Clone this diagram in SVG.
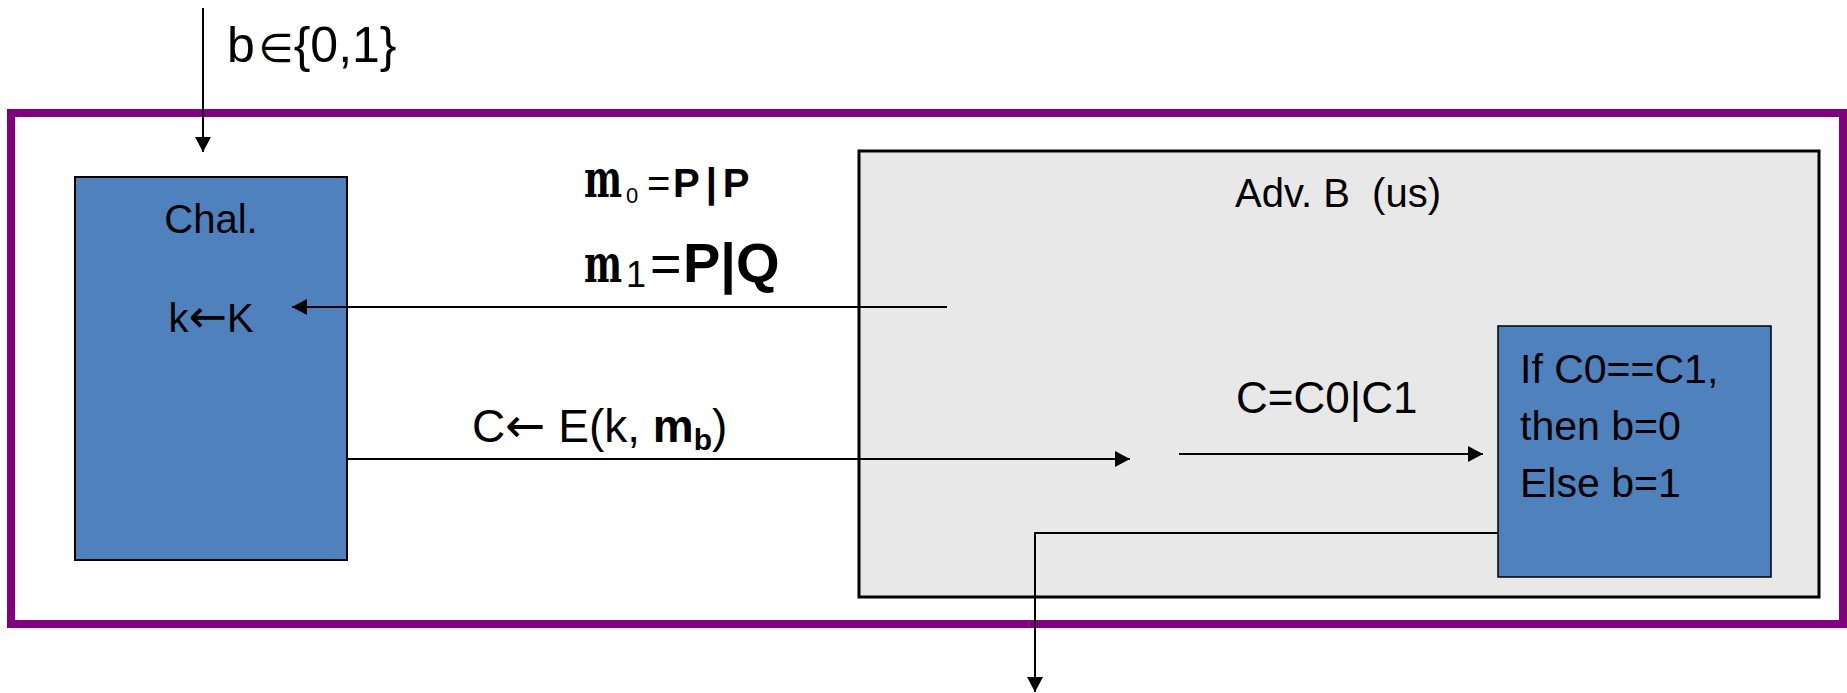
<svg xmlns="http://www.w3.org/2000/svg" width="1847" height="693" viewBox="0 0 1847 693">
<style>
.t{font-family:"Liberation Sans",Arial,sans-serif;fill:#000}
.ar{font-family:"DejaVu Sans",sans-serif}
.mm{font-family:"DejaVu Serif",serif;font-weight:bold;fill:#000}
.c{stroke:#000;stroke-width:2;fill:none}
.blue{fill:#4F81BD;stroke:#000}
</style>
<defs>
<marker id="ah" markerUnits="userSpaceOnUse" markerWidth="16" markerHeight="16" refX="15" refY="8" orient="auto">
<path d="M0,0 L15,8 L0,16 Z" fill="#000"/>
</marker>
</defs>
<rect width="1847" height="693" fill="#fff"/>
<g id="frame">
<rect x="11" y="113" width="1832" height="511" fill="none" stroke="#800080" stroke-width="8"/>
</g>
<g id="adversary">
<rect x="859" y="151" width="960" height="446" fill="#E8E8E8" stroke="#000" stroke-width="3"/>
<text class="t" x="1338" y="207" font-size="40" text-anchor="middle" style="white-space:pre" xml:space="preserve">Adv. B  (us)</text>
</g>
<g id="challenger">
<rect class="blue" x="75" y="177" width="272" height="383" stroke-width="2"/>
<text class="t" x="211" y="233" font-size="40" text-anchor="middle">Chal.</text>
<text class="t" x="211" y="332" font-size="40" text-anchor="middle">k<tspan class="ar" font-size="46">←</tspan>K</text>
</g>
<g id="decision">
<rect class="blue" x="1498" y="326" width="273" height="251" stroke-width="1.5"/>
<text class="t" x="1520" y="383" font-size="41">If C0==C1,</text>
<text class="t" x="1520" y="440" font-size="41">then b=0</text>
<text class="t" x="1520" y="497" font-size="41">Else b=1</text>
</g>
<g id="connectors">
<line class="c" x1="203" y1="8" x2="203" y2="152" marker-end="url(#ah)"/>
<line class="c" x1="947" y1="307" x2="292" y2="307" marker-end="url(#ah)"/>
<line class="c" x1="347" y1="459" x2="1130" y2="459" marker-end="url(#ah)"/>
<line class="c" x1="1179" y1="454" x2="1483" y2="454" marker-end="url(#ah)"/>
<polyline class="c" points="1498,533 1035,533 1035,692" marker-end="url(#ah)"/>
</g>
<g id="labels">
<text class="t" x="227" y="62" font-size="50">b<tspan class="ar" font-size="40" dx="4">∈</tspan>{0,1}</text>
<text class="mm" font-size="53" transform="translate(584,197) scale(0.68,1)">m</text>
<text class="t" x="626" y="203" font-size="22">0</text>
<text class="t" x="647" y="197" font-size="40">=</text>
<text class="t" x="673" y="197" font-size="40" font-weight="bold" letter-spacing="6">P|P</text>
<text class="mm" font-size="53" transform="translate(584,282) scale(0.68,1)">m</text>
<text class="t" x="626" y="287" font-size="36">1</text>
<text class="t" x="650" y="282" font-size="54">=</text>
<text class="t" x="683" y="282" font-size="56" font-weight="bold">P|Q</text>
<text class="t" x="472" y="442" font-size="46">C<tspan class="ar" font-size="48">←</tspan> E(k, <tspan font-weight="bold">m</tspan><tspan font-weight="bold" font-size="30" dy="8">b</tspan><tspan dy="-8">)</tspan></text>
<text class="t" x="1236" y="413" font-size="44">C=C0|C1</text>
</g>
</svg>
